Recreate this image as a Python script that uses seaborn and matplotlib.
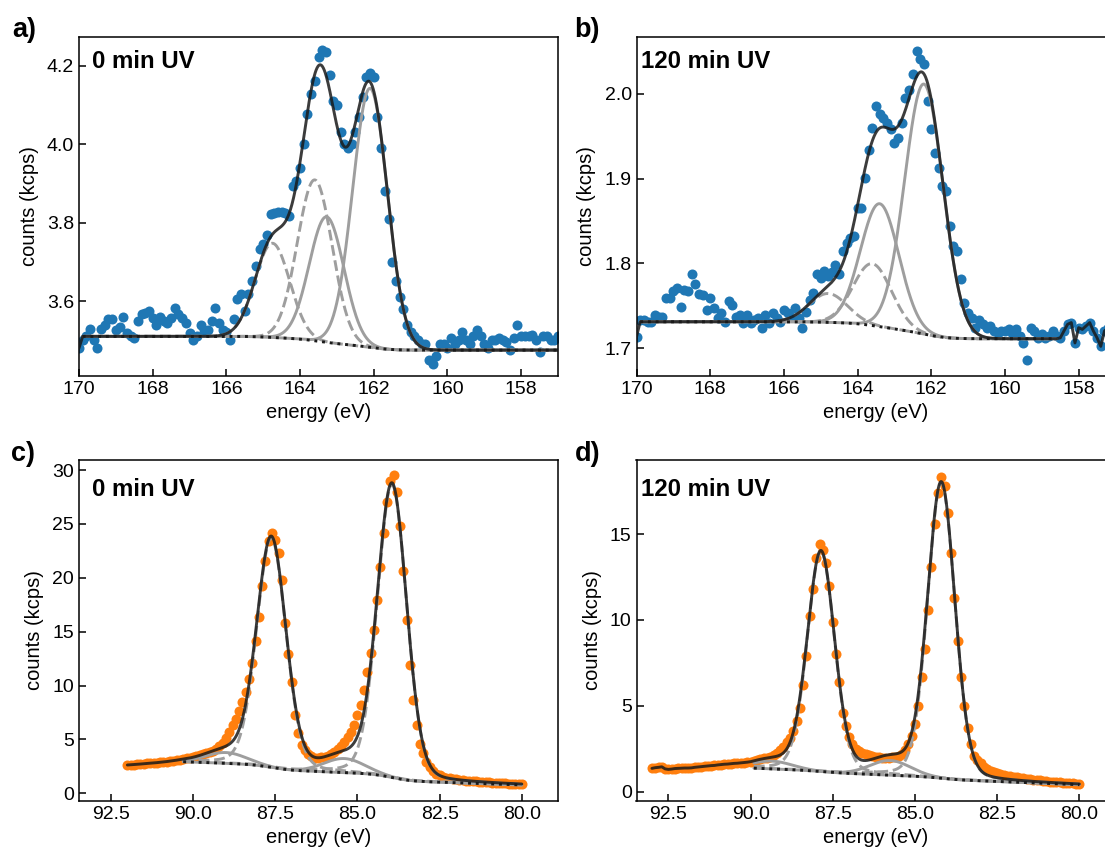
import numpy as np
import matplotlib
matplotlib.use("Agg")
import matplotlib.pyplot as plt
import seaborn as sns

# ---------------------------------------------------------------- measured spectra
# S 2p region, 0.1 eV steps from 170.0 eV down to 157.0 eV (kcps)
s2p_start, s2p_stop = 170.0, 157.0
s2p_0min = [
    3.48, 3.50, 3.51, 3.53, 3.50, 3.48, 3.53, 3.54, 3.555, 3.555,
    3.527, 3.535, 3.56, 3.518, 3.51, 3.505, 3.548, 3.566, 3.57, 3.575,
    3.556, 3.54, 3.56, 3.55, 3.544, 3.556, 3.582, 3.566, 3.556, 3.544,
    3.518, 3.50, 3.51, 3.54, 3.527, 3.527, 3.548, 3.582, 3.544, 3.527,
    3.52, 3.50, 3.555, 3.604, 3.617, 3.575, 3.617, 3.651, 3.69, 3.733,
    3.745, 3.769, 3.823, 3.825, 3.827, 3.827, 3.825, 3.818, 3.892, 3.905,
    3.94, 4.00, 4.077, 4.128, 4.162, 4.222, 4.24, 4.235, 4.175, 4.11,
    4.10, 4.03, 4.00, 3.99, 4.00, 4.03, 4.07, 4.12, 4.17, 4.18,
    4.17, 4.07, 3.99, 3.88, 3.81, 3.70, 3.65, 3.61, 3.58, 3.54,
    3.52, 3.51, 3.50, 3.49, 3.49, 3.45, 3.44, 3.46, 3.49, 3.49,
    3.48, 3.505, 3.49, 3.50, 3.52, 3.50, 3.49, 3.51, 3.527, 3.51,
    3.49, 3.48, 3.50, 3.50, 3.505, 3.50, 3.495, 3.475, 3.505, 3.54,
    3.51, 3.51, 3.51, 3.513, 3.50, 3.47, 3.51, 3.51, 3.50, 3.50,
    3.51,
]
s2p_120min = [
    1.713, 1.733, 1.733, 1.731, 1.731, 1.739, 1.737, 1.737, 1.759, 1.759,
    1.767, 1.771, 1.749, 1.769, 1.767, 1.787, 1.775, 1.764, 1.763, 1.745,
    1.759, 1.747, 1.735, 1.741, 1.731, 1.755, 1.751, 1.737, 1.739, 1.730,
    1.739, 1.730, 1.733, 1.735, 1.724, 1.739, 1.730, 1.741, 1.735, 1.731,
    1.745, 1.741, 1.737, 1.747, 1.735, 1.724, 1.743, 1.757, 1.765, 1.787,
    1.783, 1.791, 1.785, 1.790, 1.798, 1.787, 1.814, 1.824, 1.830, 1.832,
    1.865, 1.865, 1.901, 1.934, 1.960, 1.985, 1.976, 1.972, 1.965, 1.958,
    1.942, 1.948, 1.966, 1.995, 2.005, 2.023, 2.050, 2.041, 2.035, 1.991,
    1.958, 1.930, 1.913, 1.891, 1.885, 1.844, 1.820, 1.814, 1.781, 1.753,
    1.741, 1.735, 1.724, 1.733, 1.728, 1.724, 1.726, 1.720, 1.718, 1.720,
    1.720, 1.722, 1.718, 1.722, 1.714, 1.706, 1.686, 1.724, 1.720, 1.712,
    1.716, 1.712, 1.714, 1.720, 1.714, 1.712, 1.720, 1.728, 1.730, 1.706,
    1.724, 1.722, 1.726, 1.730, 1.720, 1.712, 1.702, 1.720, 1.724, 1.716,
    1.720,
]

# Au 4f region, 0.1 eV steps down to 80.0 eV (kcps)
au4f_0min_start, au4f_120min_start, au4f_stop = 92.0, 93.0, 80.0
au4f_0min = [
    2.63, 2.65, 2.67, 2.70, 2.72, 2.75, 2.77, 2.80, 2.82, 2.85,
    2.88, 2.91, 2.95, 2.99, 3.03, 3.08, 3.13, 3.19, 3.25, 3.32,
    3.40, 3.48, 3.56, 3.64, 3.73, 3.83, 3.95, 4.10, 4.35, 4.70,
    5.15, 5.70, 6.30, 6.90, 7.60, 8.50, 9.40, 10.6, 12.1, 14.1,
    16.4, 19.2, 21.6, 23.4, 24.2, 23.5, 22.3, 19.8, 15.8, 12.9,
    10.3, 7.3, 5.6, 4.5, 4.0, 3.65, 3.45, 3.30, 3.30, 3.35,
    3.40, 3.50, 3.65, 3.85, 4.10, 4.40, 4.75, 5.20, 5.70, 6.30,
    7.30, 8.20, 9.60, 11.3, 13.0, 15.2, 17.9, 21.0, 24.2, 27.0,
    29.0, 29.5, 28.0, 24.8, 20.6, 16.1, 11.9, 8.7, 6.3, 4.6,
    3.70, 2.90, 2.45, 2.05, 1.82, 1.66, 1.55, 1.47, 1.40, 1.34,
    1.29, 1.25, 1.21, 1.18, 1.15, 1.12, 1.10, 1.08, 1.06, 1.04,
    1.02, 1.00, 0.98, 0.96, 0.94, 0.92, 0.90, 0.89, 0.88, 0.86,
    0.85,
]
au4f_120min = [
    1.36, 1.40, 1.42, 1.45, 1.33, 1.30, 1.32, 1.35, 1.36, 1.37,
    1.38, 1.38, 1.39, 1.42, 1.44, 1.46, 1.48, 1.50, 1.52, 1.53,
    1.56, 1.58, 1.60, 1.61, 1.63, 1.65, 1.66, 1.68, 1.70, 1.72,
    1.75, 1.80, 1.85, 1.90, 1.94, 1.99, 2.05, 2.13, 2.27, 2.42,
    2.60, 2.90, 3.15, 3.55, 4.10, 4.90, 6.20, 7.90, 10.2, 11.8,
    13.6, 14.4, 14.1, 13.3, 12.0, 9.9, 8.0, 6.4, 4.6, 3.8,
    3.20, 2.80, 2.50, 2.35, 2.25, 2.20, 2.12, 2.06, 2.02, 2.00,
    1.98, 1.98, 1.99, 2.00, 2.02, 2.08, 2.20, 2.40, 2.75, 3.25,
    3.95, 5.00, 6.70, 8.30, 10.6, 13.1, 15.6, 17.4, 18.3, 17.8,
    16.2, 13.9, 11.3, 8.8, 6.7, 5.0, 3.7, 2.75, 2.10, 1.85,
    1.65, 1.45, 1.32, 1.22, 1.15, 1.08, 1.02, 0.97, 0.93, 0.89,
    0.86, 0.83, 0.80, 0.77, 0.75, 0.72, 0.70, 0.68, 0.66, 0.63,
    0.61, 0.59, 0.57, 0.56, 0.54, 0.52, 0.51, 0.49, 0.48, 0.46,
    0.45,
]

# ---------------------------------------------------------------- fit results
# S 2p: Gaussian doublets (centre / eV, height / kcps, sigma / eV)
s2p_0min_centres = [162.10, 163.28, 163.60, 164.75]
s2p_0min_heights = [0.66, 0.32, 0.41, 0.24]
s2p_0min_sigmas = [0.47, 0.47, 0.47, 0.47]
s2p_0min_bg = [3.475, 3.510]            # low / high binding-energy side
s2p_0min_window = [157.0, 169.9]

s2p_120min_centres = [162.20, 163.40, 163.60, 164.80]
s2p_120min_heights = [0.295, 0.145, 0.073, 0.034]
s2p_120min_sigmas = [0.52, 0.52, 0.52, 0.52]
s2p_120min_bg = [1.711, 1.731]
s2p_120min_window = [158.6, 169.9]

s2p_styles = ["-", "-", "--", "--"]

# Au 4f: pseudo-Voigt components (centre, height, FWHM, Lorentz fraction)
au4f_0min_centres = [83.95, 87.62, 85.40, 89.00]
au4f_0min_heights = [27.2, 21.3, 1.30, 1.00]
au4f_0min_fwhm = [1.05, 1.05, 1.45, 1.45]
au4f_0min_bg = [0.78, 0.10]             # level at low-energy end, linear slope
au4f_0min_window = [80.0, 90.3]

au4f_120min_centres = [84.20, 87.86, 85.75, 89.35]
au4f_120min_heights = [17.2, 12.8, 0.85, 0.45]
au4f_120min_fwhm = [0.98, 0.98, 1.45, 1.45]
au4f_120min_bg = [0.41, 0.075]
au4f_120min_window = [80.0, 89.9]

au4f_eta = [0.15, 0.15, 0.0, 0.0]
au4f_styles = ["--", "--", "-", "-"]

# ---------------------------------------------------------------- axis texts
panel_letters = ["a)", "b)", "c)", "d)"]
panel_titles = ["0 min UV", "120 min UV", "0 min UV", "120 min UV"]
s2p_xticks = [170, 168, 166, 164, 162, 160, 158]
au4f_xticks = [92.5, 90.0, 87.5, 85.0, 82.5, 80.0]
yticks = [[3.6, 3.8, 4.0, 4.2], [1.7, 1.8, 1.9, 2.0],
          [0, 5, 10, 15, 20, 25, 30], [0, 5, 10, 15]]
xlabel, ylabel = "energy (eV)", "counts (kcps)"

BLUE, ORANGE = "#1f77b4", "#ff7f0e"
COMP_COLOR = "0.62"


def gaussian(e, centre, height, sigma):
    return height * np.exp(-0.5 * ((e - centre) / sigma) ** 2)


def pseudo_voigt(e, centre, height, fwhm, eta):
    x = (e - centre) / (fwhm / 2.0)
    return height * (eta / (1.0 + x ** 2) + (1.0 - eta) * np.exp(-np.log(2.0) * x ** 2))


def shirley_fraction(energy, signal):
    """Fraction of the integrated peak area lying below each energy."""
    order = np.argsort(energy)
    e, s = energy[order], signal[order]
    area = np.concatenate([[0.0], np.cumsum(0.5 * (s[1:] + s[:-1]) * np.diff(e))])
    frac = np.empty_like(area)
    frac[order] = area / area[-1]
    return frac


def draw_panel(ax, energy, counts, color, window, components, styles,
               bg_low, bg_slope, bg_step=None):
    lo, hi = window
    e_fit = np.linspace(hi, lo, 1500)
    comps = [fn(e_fit) for fn in components]
    total = np.sum(comps, axis=0)
    linear = bg_low + bg_slope * (e_fit - lo)
    if bg_step is None:
        edge_value = counts[np.isclose(energy, hi)][0]
        bg_step = edge_value - total[0] - linear[0]
    background = linear + bg_step * shirley_fraction(e_fit, total)

    # fitted envelope, continued by the raw spectrum outside the fit window
    left = energy > hi + 1e-6
    right = energy < lo - 1e-6
    env_e = np.concatenate([energy[left], e_fit, energy[right]])
    env_y = np.concatenate([counts[left], background + total, counts[right]])

    sns.scatterplot(x=energy, y=counts, ax=ax, color=color, s=52,
                    linewidth=0, zorder=1, legend=False)
    for comp, ls in zip(comps, styles):
        sns.lineplot(x=e_fit, y=background + comp, ax=ax, color=COMP_COLOR,
                     lw=2.1, linestyle=ls, sort=False, estimator=None, zorder=2)
    sns.lineplot(x=e_fit, y=background, ax=ax, color="k", lw=2.1,
                 linestyle=":", sort=False, estimator=None, zorder=3)
    sns.lineplot(x=env_e, y=env_y, ax=ax, color="k", alpha=0.85, lw=2.1,
                 sort=False, estimator=None, zorder=4)


sns.set_theme(style="ticks")
plt.rcParams["font.family"] = ["Liberation Sans", "DejaVu Sans"]
plt.rcParams.update({
    "axes.linewidth": 1.1,
    "xtick.direction": "in", "ytick.direction": "in",
    "xtick.major.size": 5, "ytick.major.size": 5,
    "xtick.major.width": 1.1, "ytick.major.width": 1.1,
    "xtick.labelsize": 14, "ytick.labelsize": 14,
    "axes.labelsize": 14.5,
    "axes.edgecolor": "black",
    "text.color": "black", "axes.labelcolor": "black",
    "xtick.color": "black", "ytick.color": "black",
    "xtick.labelcolor": "black", "ytick.labelcolor": "black",
})

W, H = 1105, 858
fig = plt.figure(figsize=(W / 100, H / 100), dpi=100)


def add_axes_px(left, top, right, bottom):
    return fig.add_axes([left / W, 1 - bottom / H, (right - left) / W, (bottom - top) / H])


ax_a = add_axes_px(79, 37, 558, 376)
ax_b = add_axes_px(636.5, 37, 1115.5, 376)
ax_c = add_axes_px(79, 460, 558, 801)
ax_d = add_axes_px(636.5, 460, 1115.5, 801)
axes = [ax_a, ax_b, ax_c, ax_d]

e_s2p_0 = np.round(np.linspace(s2p_start, s2p_stop, len(s2p_0min)), 2)
e_s2p_120 = np.round(np.linspace(s2p_start, s2p_stop, len(s2p_120min)), 2)
e_au_0 = np.round(np.linspace(au4f_0min_start, au4f_stop, len(au4f_0min)), 2)
e_au_120 = np.round(np.linspace(au4f_120min_start, au4f_stop, len(au4f_120min)), 2)


def s2p_components(centres, heights, sigmas):
    return [lambda e, c=c, h=h, s=s: gaussian(e, c, h, s)
            for c, h, s in zip(centres, heights, sigmas)]


def au4f_components(centres, heights, fwhms):
    return [lambda e, c=c, h=h, f=f, n=n: pseudo_voigt(e, c, h, f, n)
            for c, h, f, n in zip(centres, heights, fwhms, au4f_eta)]


draw_panel(ax_a, e_s2p_0, np.array(s2p_0min), BLUE, s2p_0min_window,
           s2p_components(s2p_0min_centres, s2p_0min_heights, s2p_0min_sigmas),
           s2p_styles, s2p_0min_bg[0], 0.0, s2p_0min_bg[1] - s2p_0min_bg[0])
draw_panel(ax_b, e_s2p_120, np.array(s2p_120min), BLUE, s2p_120min_window,
           s2p_components(s2p_120min_centres, s2p_120min_heights, s2p_120min_sigmas),
           s2p_styles, s2p_120min_bg[0], 0.0, s2p_120min_bg[1] - s2p_120min_bg[0])
draw_panel(ax_c, e_au_0, np.array(au4f_0min), ORANGE, au4f_0min_window,
           au4f_components(au4f_0min_centres, au4f_0min_heights, au4f_0min_fwhm),
           au4f_styles, au4f_0min_bg[0], au4f_0min_bg[1])
draw_panel(ax_d, e_au_120, np.array(au4f_120min), ORANGE, au4f_120min_window,
           au4f_components(au4f_120min_centres, au4f_120min_heights, au4f_120min_fwhm),
           au4f_styles, au4f_120min_bg[0], au4f_120min_bg[1])

xlims = [(170, 157), (170, 157), (93.47, 78.9), (93.47, 78.9)]
ylims = [(3.409, 4.273), (1.667, 2.067), (-0.71, 30.93), (-0.54, 19.31)]
xticks = [s2p_xticks, s2p_xticks, au4f_xticks, au4f_xticks]
title_pos = [(0.028, 0.962), (0.009, 0.962), (0.028, 0.947), (0.009, 0.947)]

for ax, xl, yl, xt, yt, title, tp in zip(axes, xlims, ylims, xticks, yticks,
                                          panel_titles, title_pos):
    ax.set_xlim(*xl)
    ax.set_ylim(*yl)
    ax.set_xticks(xt)
    ax.set_yticks(yt)
    ax.set_xlabel(xlabel)
    ax.set_ylabel(ylabel, labelpad=6)
    ax.tick_params(top=False, right=False)
    for side in ["top", "right", "left", "bottom"]:
        ax.spines[side].set_visible(True)
    ax.text(tp[0], tp[1], title, transform=ax.transAxes, ha="left", va="top",
            fontsize=17.3, fontweight="bold")

letter_pos = [(12, 17), (574, 17), (11, 441), (575, 441)]
for letter, (lx, ly) in zip(panel_letters, letter_pos):
    fig.text(lx / W, 1 - ly / H, letter, ha="left", va="top",
             fontsize=19.5, fontweight="bold")

fig.savefig("out.png", dpi=100)
